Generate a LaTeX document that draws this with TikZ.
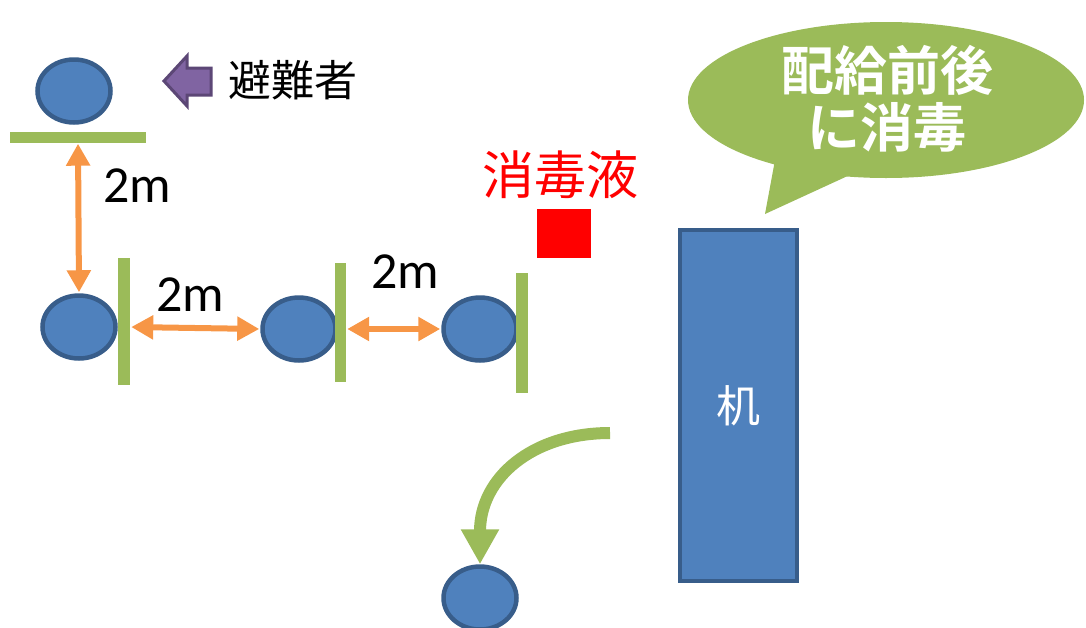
\documentclass[tikz,border=0pt]{standalone}
\usepackage{fontspec}
\setmainfont{Carlito}
\newfontfamily\jp{Noto Sans CJK JP}
\newfontfamily\jpb{Noto Sans CJK JP Bold}
\usetikzlibrary{shapes.geometric,arrows.meta,calc}
\definecolor{pblue}{HTML}{4F81BD}
\definecolor{pbord}{HTML}{385D8A}
\definecolor{pgreen}{HTML}{9BBB59}
\definecolor{porange}{HTML}{F79646}
\definecolor{ppurple}{HTML}{8064A2}
\definecolor{ppurpb}{HTML}{5C4776}
\tikzset{
  person/.style={ellipse, fill=pblue, draw=pbord, line width=4.5pt, minimum width=73pt, minimum height=63pt, inner sep=0pt},
  bar/.style={fill=pgreen, draw=none, inner sep=0pt},
  dist/.style={draw=porange, line width=6pt, {Triangle[width=23pt,length=22pt]}-{Triangle[width=23pt,length=22pt]}, shorten <=1pt, shorten >=1pt},
  lbl/.style={font=\fontsize{52}{52}\selectfont, inner sep=0pt}
}
\begin{document}
\begin{tikzpicture}[x=1pt,y=-1pt]
\useasboundingbox (0,0) rectangle (1086,627);
\clip (0,0) rectangle (1086,627);
% speech bubble
\fill[pgreen] (886,100) ellipse [x radius=198, y radius=78];
\fill[pgreen] (775,160) -- (765,214) -- (852,174) -- cycle;
\node[text=white, font=\jpb\fontsize{53}{53}\selectfont, inner sep=0pt] (t1) at (887,70) {配給前後};
\node[text=white, font=\jpb\fontsize{53}{53}\selectfont, inner sep=0pt] (t2) at (887,127) {に消毒};
% top person
\node[person] (p0) at (74,91) {};
\node[bar, minimum width=136pt, minimum height=11pt] (b0) at (78,137) {};
% purple arrow
\filldraw[fill=ppurple, draw=ppurpb, line width=3pt, line join=miter]
  (164,81) -- (187,56) -- (187,68) -- (211,68) -- (211,95) -- (187,95) -- (187,106) -- cycle;
\node[font=\jp\fontsize{43}{43}\selectfont, anchor=west, inner sep=0pt] (evac) at (228,80) {避難者};
% row
\node[person] (p1) at (79,327) {};
\node[bar, minimum width=12pt, minimum height=127pt] (b1) at (124,321.5) {};
\node[person] (p2) at (299,329) {};
\node[bar, minimum width=11pt, minimum height=119pt] (b2) at (340.5,322.5) {};
\node[person] (p3) at (480,329) {};
\node[bar, minimum width=12pt, minimum height=120pt] (b3) at (522,333) {};
\draw[dist] (b0.south) -- (p1.north);
\draw[dist] (b1.east |- p1.east) -- (p2.west);
\draw[dist] (b2.east |- p3.west) -- (p3.west);
\node[lbl] (d0) at (137,186) {2m};
\node[lbl] (d1) at (190,295) {2m};
\node[lbl] (d2) at (405,272) {2m};
% disinfectant
\node[text=red, font=\jp\fontsize{52}{52}\selectfont, inner sep=0pt] (dis) at (560,175) {消毒液};
\node[fill=red, minimum width=54pt, minimum height=49pt, inner sep=0pt] (sq) at (564,233.5) {};
% desk
\node[fill=pblue, draw=pbord, line width=4pt, minimum width=117pt, minimum height=351pt, inner sep=0pt,
  text=white, font=\jp\fontsize{44}{44}\selectfont] (desk) at (738.5,405.5) {机};
% bottom person and curved arrow
\node[person] (p4) at (480,598) {};
\coordinate (cs) at (610,433);
\draw[draw=pgreen, line width=12pt, -{Triangle[width=36pt,length=35pt]}]
  (cs) .. controls (532,433) and (480,478) .. (p4.north);
\end{tikzpicture}
\end{document}
